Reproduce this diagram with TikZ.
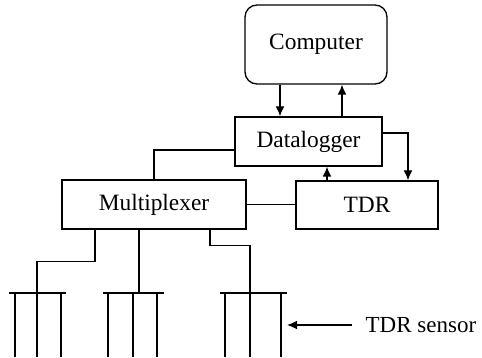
\documentclass[tikz,border=0pt]{standalone}
\usepackage{fontspec}
\setmainfont{Liberation Serif}
\usepackage{tikz}
\usetikzlibrary{arrows,arrows.meta,positioning,calc}

\begin{document}
\begin{tikzpicture}[x=0.5pt, y=-0.5pt, line width=0.65pt,
    box/.style={draw, font=\fontsize{11.7}{14}\selectfont, inner sep=0pt},
    arr/.style={-{Latex[length=5pt,width=4.4pt]}}]
    \useasboundingbox (0,0) rectangle (482,358);

    % Boxes
    \node[box, rounded corners=6pt, minimum width=71pt, minimum height=39.5pt] (comp) at (316,44.5) {Computer};
    \node[box, minimum width=73.5pt, minimum height=24.5pt] (dlog) at (308.5,141.5) {Datalogger};
    \node[box, minimum width=92pt, minimum height=24.5pt] (mux) at (154,204.5) {Multiplexer};
    \node[box, minimum width=71pt, minimum height=24pt] (tdr) at (367,205) {TDR};

    % Computer <-> Datalogger
    \draw[arr] ([xshift=-18pt]comp.south) -- ([xshift=-18pt]comp.south |- dlog.north);
    \draw[arr] ([xshift=13pt]comp.south |- dlog.north) -- ([xshift=13pt]comp.south);

    % Datalogger <-> TDR
    \draw[arr] ([yshift=4.25pt]dlog.east) -| ([xshift=20.5pt]tdr.north);
    \draw[arr] ([xshift=-20pt]tdr.north) -- ([xshift=-20pt]tdr.north |- dlog.south);

    % Datalogger -- Multiplexer -- TDR
    \draw ([yshift=-4.25pt]dlog.west) -| (mux.north);
    \draw (mux.east) -- (mux.east -| tdr.west);

    % Sensors
    \coordinate (s1) at (37,293);
    \coordinate (s2) at (139,293);
    \coordinate (s3) at (250,293);
    \foreach \bl/\ra/\rb/\rc/\br in {9/15/37/61/66, 103/108/133/157/164, 220/225/250/281/287} {
        \draw (\bl,293) -- (\br,293);
        \foreach \r in {\ra,\rb,\rc} \draw (\r,293) -- (\r,357);
    }
    \draw ([xshift=-29.5pt]mux.south) -- ++(0,-16pt) -| (s1);
    \draw (mux.south -| s2) -- (s2);
    \draw ([xshift=28pt]mux.south) -- ++(0,-8pt) -| (s3);

    % Label
    \node[font=\fontsize{11.5}{14}\selectfont, anchor=west, inner sep=3pt] (lbl) at (359,325) {TDR sensor};
    \coordinate (tip) at (287,325);
    \draw[arr] ([xshift=-3.5pt]lbl.west) -- (tip);
\end{tikzpicture}
\end{document}
